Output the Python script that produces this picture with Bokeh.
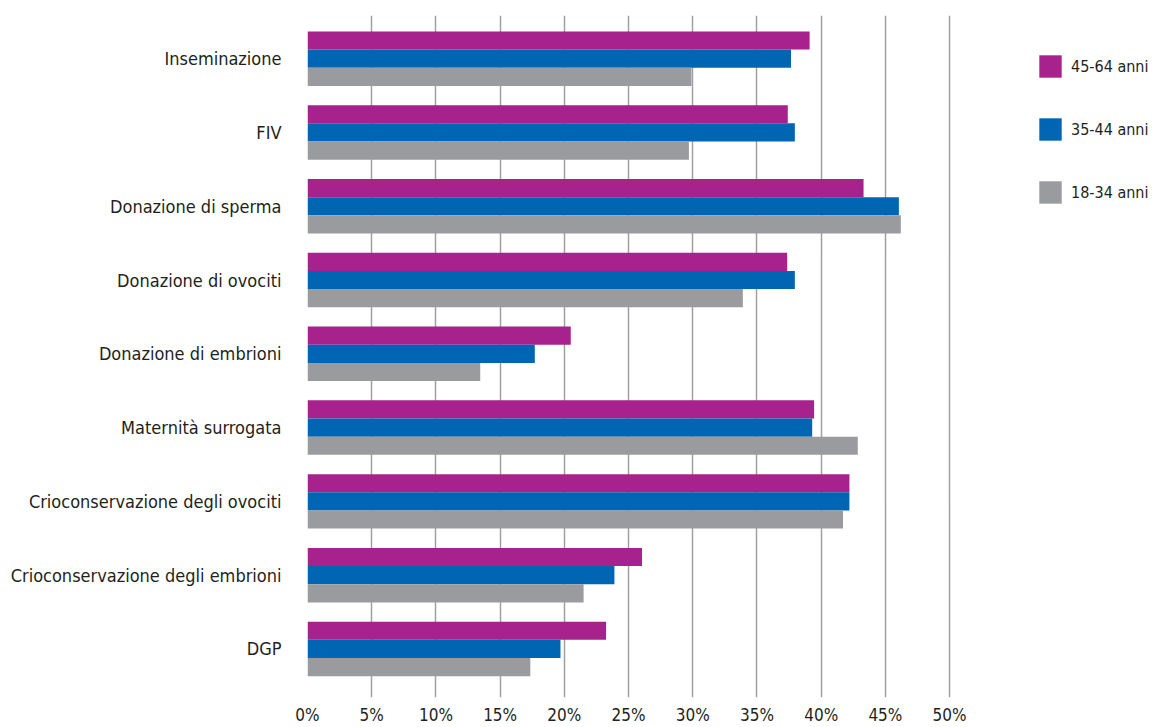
from bokeh.plotting import figure
from bokeh.models import Range1d, FixedTicker, Legend, LegendItem, ColumnDataSource
from bokeh.embed import file_html
from bokeh.resources import INLINE

categories = [
    "Inseminazione",
    "FIV",
    "Donazione di sperma",
    "Donazione di ovociti",
    "Donazione di embrioni",
    "Maternità surrogata",
    "Crioconservazione degli ovociti",
    "Crioconservazione degli embrioni",
    "DGP",
]
age_45_64 = [39.1, 37.4, 43.3, 37.35, 20.5, 39.45, 42.2, 26.05, 23.25]
age_35_44 = [37.65, 37.95, 46.05, 37.95, 17.7, 39.3, 42.2, 23.9, 19.7]
age_18_34 = [29.9, 29.7, 46.2, 33.9, 13.45, 42.85, 41.7, 21.5, 17.35]
series_labels = ["45-64 anni", "35-44 anni", "18-34 anni"]
series_colors = ["#A8228E", "#0066B3", "#9A9B9E"]
x_ticks = [0, 5, 10, 15, 20, 25, 30, 35, 40, 45, 50]
x_tick_labels = [f"{t}%" for t in x_ticks]

FONT = "DejaVu Sans Condensed"
TEXT = "#231f20"

n = len(categories)
ypos = [n - 1 - i for i in range(n)]
bar_h = 0.246

p = figure(
    width=1152, height=727,
    output_backend="svg", toolbar_location=None,
    x_range=Range1d(0, 65.8),
    y_range=Range1d(-0.658, n - 1 + 0.585),
    min_border_left=307, min_border_right=0,
    min_border_top=15, min_border_bottom=28,
)
p.outline_line_color = None
p.background_fill_color = "white"

series = [age_45_64, age_35_44, age_18_34]
offsets = [bar_h, 0.0, -bar_h]
renderers = []
for vals, off, col in zip(series, offsets, series_colors):
    src = ColumnDataSource(dict(y=[y + off for y in ypos], right=vals))
    r = p.hbar(y="y", left=0, right="right", height=bar_h, source=src,
               fill_color=col, line_color=None)
    renderers.append(r)

# x axis
p.xaxis.ticker = FixedTicker(ticks=x_ticks)
p.xaxis.major_label_overrides = {t: l for t, l in zip(x_ticks, x_tick_labels)}
p.xaxis.axis_line_color = None
p.xaxis.major_tick_line_color = None
p.xaxis.minor_tick_line_color = None
p.xaxis.major_tick_out = 0
p.xaxis.major_label_standoff = 7
p.xaxis.major_label_text_font = FONT
p.xaxis.major_label_text_font_size = "17px"
p.xaxis.major_label_text_color = TEXT

# y axis
p.yaxis.ticker = FixedTicker(ticks=ypos)
p.yaxis.major_label_overrides = {y: c for y, c in zip(ypos, categories)}
p.yaxis.axis_line_color = None
p.yaxis.major_tick_line_color = None
p.yaxis.minor_tick_line_color = None
p.yaxis.major_tick_out = 0
p.yaxis.major_label_standoff = 26
p.yaxis.major_label_text_font = FONT
p.yaxis.major_label_text_font_size = "18px"
p.yaxis.major_label_text_color = TEXT

p.xgrid.grid_line_color = "#a0a0a0"
p.xgrid.grid_line_width = 1.5
p.ygrid.grid_line_color = None

legend = Legend(
    items=[LegendItem(label=l, renderers=[r]) for l, r in zip(series_labels, renderers)],
    location=(729, 491),
    glyph_width=28, glyph_height=28, label_height=28,
    label_standoff=7, spacing=35, padding=0, margin=0,
    border_line_color=None, background_fill_alpha=0,
    label_text_font=FONT, label_text_font_size="16px", label_text_color=TEXT,
)
p.add_layout(legend, "center")

open("out.html", "w").write(file_html(p, INLINE))
